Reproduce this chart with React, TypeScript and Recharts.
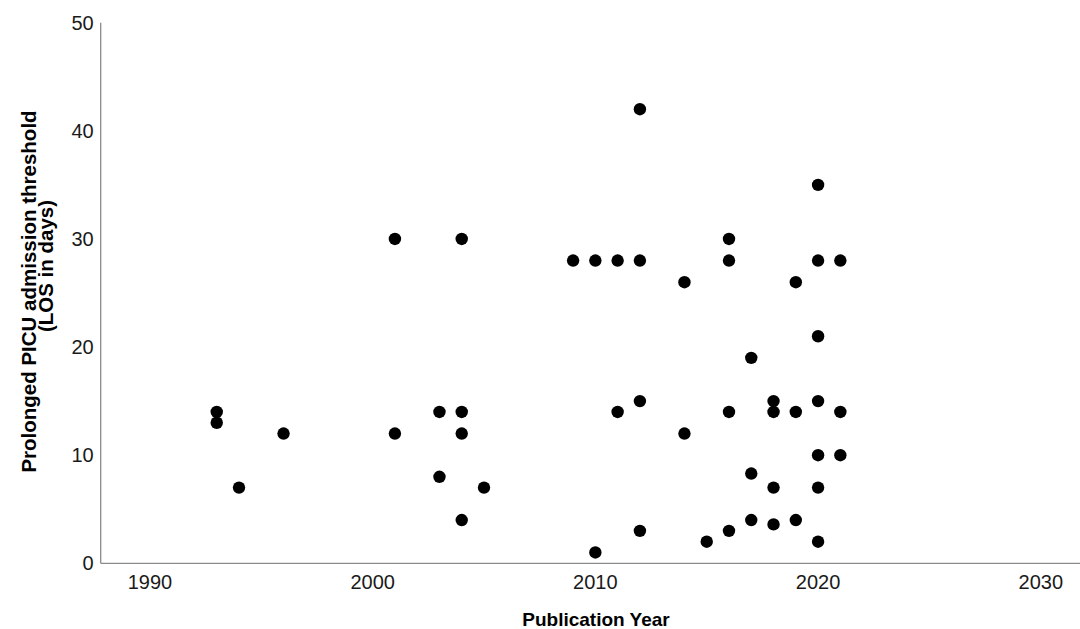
import React from 'react';
import { ScatterChart, Scatter, XAxis, YAxis } from 'recharts';

// Publication year of each study and its prolonged-PICU LOS threshold (days)
const pubYears = [
  1993, 1993,
  1994,
  1996,
  2001, 2001,
  2003, 2003,
  2004, 2004, 2004, 2004,
  2005,
  2009,
  2010, 2010,
  2011, 2011,
  2012, 2012, 2012, 2012,
  2014, 2014,
  2015,
  2016, 2016, 2016, 2016,
  2017, 2017, 2017,
  2018, 2018, 2018, 2018,
  2019, 2019, 2019,
  2020, 2020, 2020, 2020, 2020, 2020, 2020,
  2021, 2021, 2021,
];
const losDays = [
  14, 13,
  7,
  12,
  30, 12,
  14, 8,
  30, 14, 12, 4,
  7,
  28,
  28, 1,
  28, 14,
  42, 28, 15, 3,
  26, 12,
  2,
  30, 28, 14, 3,
  19, 8.3, 4,
  15, 14, 7, 3.6,
  26, 14, 4,
  35, 28, 21, 15, 10, 7, 2,
  28, 14, 10,
];

const xTicks = [1990, 2000, 2010, 2020, 2030];
const yTicks = [0, 10, 20, 30, 40, 50];
const xDomain = [1987.79, 2031.76];
const yDomain = [0, 50];
const xLabel = 'Publication Year';
const yLabelLines = ['Prolonged PICU admission threshold', '(LOS in days)'];

const data = pubYears.map((year, i) => ({ year, los: losDays[i] }));

const FONT = '"Liberation Sans", Arial, Helvetica, sans-serif';
const AXIS = { stroke: '#8a8a8a', strokeWidth: 1.3 };

const XTick = (props: any) => (
  <text
    x={props.x}
    y={props.y + 18.5}
    textAnchor="middle"
    dominantBaseline="central"
    fontFamily={FONT}
    fontSize={20}
    fill="#1a1a1a"
  >
    {props.payload.value}
  </text>
);

const YTick = (props: any) => (
  <text
    x={props.x - 7}
    y={props.y}
    textAnchor="end"
    dominantBaseline="central"
    fontFamily={FONT}
    fontSize={20}
    fill="#1a1a1a"
  >
    {props.payload.value}
  </text>
);

const XLabelContent = () => (
  <text
    x={596}
    y={619}
    textAnchor="middle"
    dominantBaseline="central"
    fontFamily={FONT}
    fontSize={19}
    fontWeight="bold"
    fill="#000"
  >
    {xLabel}
  </text>
);

const YLabelContent = () => (
  <g>
    <text
      transform="translate(28.5,291.5) rotate(-90)"
      textAnchor="middle"
      dominantBaseline="central"
      fontFamily={FONT}
      fontSize={20.5}
      fontWeight="bold"
      fill="#000"
    >
      {yLabelLines[0]}
    </text>
    <text
      transform="translate(45,266) rotate(-90)"
      textAnchor="middle"
      dominantBaseline="central"
      fontFamily={FONT}
      fontSize={20.5}
      fontWeight="bold"
      fill="#000"
    >
      {yLabelLines[1]}
    </text>
  </g>
);

const Dot = (p: any) => <circle cx={p.cx} cy={p.cy} r={6.2} fill="#000" />;

export default function App() {
  return (
    <div style={{ position: 'absolute', left: 0, top: 0, width: 1080, height: 629, background: '#fff' }}>
      <ScatterChart
        width={1080}
        height={629}
        margin={{ top: 22.7, right: 0, bottom: 35.7, left: 0 }}
      >
        <XAxis
          type="number"
          dataKey="year"
          domain={xDomain}
          ticks={xTicks}
          interval={0}
          allowDataOverflow
          tickLine={false}
          tickSize={0}
          tickMargin={0}
          height={30}
          axisLine={AXIS}
          tick={XTick}
          label={{ content: XLabelContent }}
        />
        <YAxis
          type="number"
          dataKey="los"
          domain={yDomain}
          ticks={yTicks}
          interval={0}
          allowDataOverflow
          tickLine={false}
          tickSize={0}
          tickMargin={0}
          width={100.7}
          axisLine={AXIS}
          tick={YTick}
          label={{ content: YLabelContent }}
        />
        <Scatter data={data} shape={Dot} isAnimationActive={false} />
      </ScatterChart>
    </div>
  );
}
